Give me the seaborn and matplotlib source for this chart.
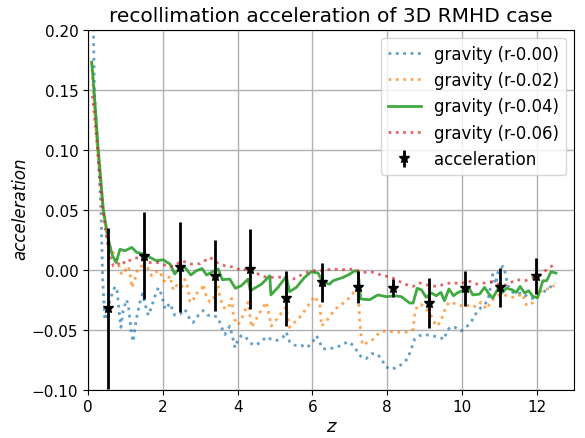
import numpy as np
import pandas as pd
import matplotlib
matplotlib.use("Agg")
import matplotlib.pyplot as plt
import seaborn as sns

# ---- data ----
z_r000 = [0.10, 0.17, 0.26, 0.35, 0.39, 0.45, 0.52, 0.60, 0.72, 0.78, 0.85, 0.88, 0.94, 1.03, 1.08,
          1.17, 1.21, 1.25, 1.30, 1.39, 1.46, 1.52, 1.61, 1.70, 1.79, 1.88, 1.97, 2.06, 2.19, 2.32,
          2.46, 2.59, 2.72, 2.81, 2.95, 3.08, 3.21, 3.35, 3.48, 3.57, 3.66, 3.79, 3.88, 3.93, 4.01,
          4.10, 4.19, 4.33, 4.46, 4.59, 4.77, 4.90, 5.04, 5.22, 5.30, 5.39, 5.53, 5.70, 5.84, 5.97,
          6.11, 6.20, 6.28, 6.42, 6.60, 6.77, 6.95, 7.09, 7.22, 7.31, 7.44, 7.58, 7.71, 7.85, 7.93,
          8.07, 8.20, 8.38, 8.55, 8.64, 8.73, 8.86, 9.00, 9.18, 9.36, 9.53, 9.58, 9.67, 9.80, 9.98,
          10.11, 10.25, 10.42, 10.56, 10.69, 10.78, 10.82, 10.90, 10.96, 11.09, 11.13, 11.18, 11.22,
          11.36, 11.49, 11.62, 11.76, 11.89, 12.02, 12.16, 12.29, 12.42, 12.50]
g_r000 = [0.300, 0.150, 0.100, 0.050, -0.006, -0.042, -0.035, -0.024, -0.014, -0.018, -0.040, -0.048,
          -0.034, -0.025, -0.030, -0.055, -0.060, -0.050, -0.040, -0.027, -0.020, -0.028, -0.038,
          -0.031, -0.022, -0.015, -0.021, -0.033, -0.028, -0.038, -0.037, -0.033, -0.041, -0.044,
          -0.038, -0.034, -0.038, -0.038, -0.040, -0.048, -0.054, -0.047, -0.058, -0.065, -0.058,
          -0.055, -0.055, -0.061, -0.063, -0.061, -0.056, -0.058, -0.059, -0.056, -0.052, -0.060,
          -0.063, -0.063, -0.065, -0.062, -0.055, -0.061, -0.066, -0.066, -0.065, -0.063, -0.060,
          -0.063, -0.069, -0.073, -0.074, -0.070, -0.070, -0.074, -0.080, -0.083, -0.082, -0.079,
          -0.074, -0.066, -0.058, -0.055, -0.054, -0.055, -0.056, -0.058, -0.052, -0.048, -0.048,
          -0.051, -0.048, -0.043, -0.034, -0.030, -0.026, -0.011, -0.004, -0.012, -0.002, 0.003,
          0.000, -0.006, -0.013, -0.019, -0.020, -0.019, -0.023, -0.024, -0.020, -0.019, -0.016,
          -0.013, -0.011]

z_r002 = [0.10, 0.20, 0.30, 0.40, 0.50, 0.60, 0.68, 0.77, 0.90, 0.99, 1.08, 1.15, 1.17, 1.24, 1.30,
          1.39, 1.52, 1.61, 1.70, 1.79, 1.92, 2.01, 2.10, 2.19, 2.28, 2.37, 2.50, 2.59, 2.68, 2.72,
          2.81, 2.86, 2.95, 3.04, 3.08, 3.17, 3.26, 3.35, 3.48, 3.52, 3.61, 3.70, 3.79, 3.84, 3.88,
          3.93, 4.01, 4.15, 4.28, 4.37, 4.50, 4.64, 4.77, 4.90, 5.05, 5.17, 5.30, 5.39, 5.55, 5.71,
          5.88, 6.06, 6.20, 6.24, 6.42, 6.60, 6.86, 7.04, 7.17, 7.22, 7.26, 7.31, 7.35, 7.50, 7.62,
          7.80, 7.98, 8.25, 8.51, 8.69, 8.73, 8.80, 8.90, 9.00, 9.13, 9.22, 9.31, 9.42, 9.58, 9.66,
          9.78, 9.98, 10.10, 10.20, 10.38, 10.51, 10.65, 10.73, 10.87, 11.05, 11.22, 11.36, 11.49,
          11.62, 11.71, 11.80, 11.94, 12.07, 12.20, 12.34, 12.47]
g_r002 = [0.173, 0.120, 0.085, 0.050, 0.030, 0.017, 0.014, 0.009, -0.004, -0.001, 0.003, -0.008,
          -0.015, -0.010, -0.002, 0.003, 0.003, 0.001, -0.005, -0.002, -0.001, -0.009, -0.010,
          -0.005, -0.017, -0.013, -0.015, -0.008, -0.016, -0.026, -0.027, -0.020, -0.019, -0.016,
          -0.012, -0.023, -0.027, -0.024, -0.013, -0.022, -0.031, -0.033, -0.029, -0.024, -0.036,
          -0.042, -0.046, -0.038, -0.027, -0.048, -0.041, -0.033, -0.027, -0.047, -0.041, -0.036,
          -0.031, -0.048, -0.043, -0.038, -0.030, -0.022, -0.030, -0.047, -0.041, -0.033, -0.027,
          -0.022, -0.015, -0.013, -0.041, -0.058, -0.063, -0.060, -0.058, -0.052, -0.051, -0.052,
          -0.052, -0.050, -0.038, -0.030, -0.029, -0.031, -0.036, -0.041, -0.047, -0.044, -0.030,
          -0.027, -0.028, -0.030, -0.031, -0.029, -0.031, -0.027, -0.033, -0.029, -0.023, -0.020,
          -0.022, -0.023, -0.022, -0.020, -0.029, -0.030, -0.026, -0.019, -0.016, -0.016, -0.013]

z_r004 = [0.10, 0.16, 0.275, 0.41, 0.54, 0.65, 0.75, 0.855, 0.99, 1.17, 1.30, 1.50, 1.70, 1.83, 2.01,
          2.19, 2.32, 2.46, 2.59, 2.75, 2.90, 3.05, 3.17, 3.33, 3.48, 3.59, 3.79, 3.94, 4.10, 4.28,
          4.34, 4.64, 4.86, 4.89, 5.08, 5.30, 5.39, 5.57, 5.79, 5.97, 6.15, 6.28, 6.46, 6.55, 6.82,
          7.00, 7.13, 7.22, 7.29, 7.53, 7.75, 7.98, 8.20, 8.38, 8.60, 8.69, 8.80, 8.91, 9.04, 9.18,
          9.31, 9.43, 9.53, 9.65, 9.77, 9.89, 10.07, 10.20, 10.29, 10.47, 10.60, 10.72, 10.82, 10.96,
          11.09, 11.18, 11.34, 11.45, 11.55, 11.67, 11.78, 11.89, 12.02, 12.16, 12.26, 12.38, 12.51]
g_r004 = [0.173, 0.150, 0.100, 0.050, 0.026, 0.012, 0.006, 0.017, 0.0158, 0.0186, 0.0145, 0.013,
          0.0095, 0.0075, 0.0083, 0.0047, -0.0036, 0.002, 0.002, -0.0044, -0.0008, 0.001, -0.0044,
          -0.0017, 0.0006, -0.0083, -0.0078, -0.0155, -0.0133, -0.0078, -0.0175, -0.012, -0.005,
          -0.021, -0.0147, -0.0056, -0.0183, -0.0147, -0.0064, -0.0017, -0.0028, -0.0106, -0.012,
          -0.0092, -0.0064, -0.0036, -0.0008, -0.0017, -0.0244, -0.025, -0.021, -0.0225, -0.0217,
          -0.0225, -0.0278, -0.0278, -0.0155, -0.0167, -0.023, -0.0194, -0.0217, -0.0189, -0.0258,
          -0.016, -0.0217, -0.019, -0.0167, -0.016, -0.021, -0.0203, -0.0147, -0.0203, -0.0236,
          -0.016, -0.0189, -0.0155, -0.0167, -0.019, -0.0139, -0.0194, -0.0175, -0.0222, -0.0233,
          -0.0092, -0.0092, -0.0017, -0.0028]

z_r006 = [0.12, 0.20, 0.30, 0.40, 0.50, 0.60, 0.68, 0.75, 0.90, 1.00, 1.17, 1.34, 1.45, 1.61, 1.85,
          2.14, 2.30, 2.50, 2.77, 3.00, 3.26, 3.45, 3.66, 3.93, 4.10, 4.30, 4.55, 4.77, 4.99, 5.25,
          5.48, 5.75, 5.97, 6.24, 6.55, 6.80, 7.08, 7.35, 7.60, 7.89, 8.10, 8.29, 8.46, 8.69, 8.86,
          9.10, 9.31, 9.55, 9.75, 9.95, 10.16, 10.40, 10.60, 10.80, 11.00, 11.18, 11.45, 11.70,
          11.89, 12.11, 12.34, 12.50]
g_r006 = [0.145, 0.120, 0.085, 0.050, 0.025, 0.010, 0.003, 0.003, 0.0075, 0.005, 0.009, 0.010,
          0.008, 0.006, 0.006, 0.003, 0.003, 0.0075, 0.0047, 0.005, 0.0103, 0.006, 0.0033, 0.002,
          -0.0008, 0.001, -0.0036, -0.0064, -0.0064, -0.006, -0.0078, -0.0036, -0.0008, -0.0008,
          0.0006, 0.0, 0.0006, -0.0022, -0.002, -0.005, -0.006, -0.0092, -0.012, -0.0139, -0.011,
          -0.013, -0.0139, -0.012, -0.0105, -0.012, -0.0092, -0.012, -0.011, -0.010, -0.0125,
          -0.0128, -0.0083, -0.009, -0.0072, -0.0036, 0.002, 0.0047]

z_acc = [0.525, 1.487, 2.448, 3.39, 4.34, 5.296, 6.257, 7.21, 8.15, 9.105, 10.07, 11.02, 11.98]
acc = [-0.032, 0.0117, 0.0025, -0.005, 0.0006, -0.0239, -0.0105, -0.0142, -0.0153, -0.0278,
       -0.0155, -0.0147, -0.0055]
acc_err = [0.067, 0.036, 0.0375, 0.0295, 0.033, 0.023, 0.016, 0.0135, 0.0075, 0.021, 0.0145,
           0.0165, 0.015]

labels = ["gravity (r-0.00)", "gravity (r-0.02)", "gravity (r-0.04)", "gravity (r-0.06)"]

# ---- plot ----
fig = plt.figure(figsize=(5.85, 4.39), dpi=100)
ax = fig.add_axes([0.1504, 0.110, 0.8313, 0.820])

series = [(z_r000, g_r000, "#1f77b4", ":", 0.7),
          (z_r002, g_r002, "#ff7f0e", ":", 0.7),
          (z_r004, g_r004, "#2ca02c", "-", 0.9),
          (z_r006, g_r006, "#d62728", ":", 0.7)]
for (zz, gg, col, ls, al), lab in zip(series, labels):
    sns.lineplot(x=zz, y=gg, ax=ax, color=col, linestyle=ls, lw=2, alpha=al,
                 label=lab, estimator=None, sort=False)

ax.errorbar(z_acc, acc, yerr=acc_err, fmt="*", color="black", ms=8, elinewidth=2,
            capsize=0, label="acceleration")

ax.set_xlim(0, 13)
ax.set_ylim(-0.1, 0.2)
ax.set_xticks([0, 2, 4, 6, 8, 10, 12])
ax.set_yticks([-0.10, -0.05, 0.00, 0.05, 0.10, 0.15, 0.20])
ax.set_yticklabels(["−0.10", "−0.05", "0.00", "0.05", "0.10", "0.15", "0.20"])
ax.tick_params(labelsize=11)
ax.grid(True, color="#b0b0b0", lw=1)
ax.set_axisbelow(True)
ax.set_xlabel("z", fontsize=13, style="italic", labelpad=2)
ax.set_ylabel("acceleration", fontsize=12, style="italic")
ax.yaxis.set_label_coords(-0.121, 0.505)
ax.set_title("recollimation acceleration of 3D RMHD case", fontsize=14.5)
ax.legend(loc="upper right", fontsize=12)

fig.savefig("out.png", dpi=100)
